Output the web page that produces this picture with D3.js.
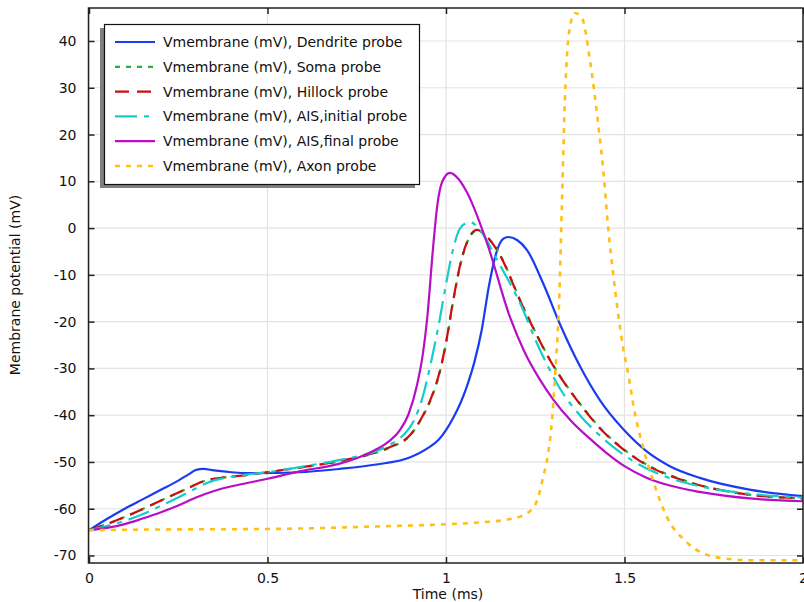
<!DOCTYPE html>
<html>
<head>
<meta charset="utf-8">
<script src="https://cdn.jsdelivr.net/npm/d3@7"></script>
<style>
body { margin: 0; background: #fff; }
text { font-family: "DejaVu Sans", sans-serif; }
</style>
</head>
<body>
<div class="content"></div>
<script>
// time (ms) and membrane potential (mV)
var tDend = [0, 0.05, 0.1, 0.15, 0.2, 0.25, 0.28, 0.3, 0.32, 0.35, 0.4, 0.44, 0.59, 0.7, 0.8, 0.9, 0.95, 0.98, 1.0, 1.02, 1.04, 1.06, 1.08, 1.1, 1.12, 1.14, 1.16, 1.174, 1.2, 1.227, 1.272, 1.319, 1.375, 1.431, 1.5, 1.563, 1.627, 1.711, 1.85, 2.0];
var vDend = [-64.6, -62.2, -60.0, -58.0, -56.0, -54.0, -52.6, -51.7, -51.5, -51.8, -52.2, -52.4, -52.2, -51.5, -50.6, -49.0, -47.0, -45.2, -43.2, -40.6, -37.5, -33.5, -28.5, -21.8, -12.5, -5.5, -2.3, -1.9, -2.6, -4.7, -11.8, -20.5, -29.5, -36.8, -43.3, -47.8, -50.9, -53.4, -55.9, -57.3];

var tSoma = [0, 0.05, 0.123, 0.2, 0.283, 0.311, 0.33, 0.37, 0.44, 0.571, 0.7, 0.8, 0.85, 0.9, 0.93, 0.96, 0.983, 1.0, 1.02, 1.045, 1.065, 1.087, 1.11, 1.143, 1.216, 1.291, 1.384, 1.44, 1.5, 1.57, 1.647, 1.804, 2.0];
var vSoma = [-64.6, -63.3, -61.0, -58.3, -55.4, -54.4, -53.9, -53.4, -52.8, -51.4, -49.9, -48.1, -46.7, -44.3, -40.9, -36.2, -30.7, -24.7, -15.7, -6.4, -2.1, -0.5, -1.5, -4.6, -16.8, -28.1, -38.4, -43.4, -47.4, -50.9, -53.4, -56.5, -57.8];

var tHill = [0, 0.05, 0.123, 0.2, 0.283, 0.311, 0.33, 0.37, 0.44, 0.571, 0.7, 0.8, 0.85, 0.9, 0.93, 0.96, 0.983, 1.0, 1.02, 1.045, 1.065, 1.087, 1.11, 1.143, 1.216, 1.291, 1.384, 1.44, 1.5, 1.57, 1.647, 1.804, 2.0];
var vHill = [-64.6, -63.3, -61.0, -58.3, -55.4, -54.4, -53.9, -53.4, -52.8, -51.4, -49.8, -48.0, -46.6, -44.2, -40.8, -36.0, -30.5, -24.5, -15.5, -6.2, -2.0, -0.4, -1.5, -4.7, -16.9, -28.2, -38.5, -43.5, -47.5, -51.0, -53.5, -56.5, -57.8];

var tAisI = [0, 0.05, 0.1, 0.15, 0.2, 0.25, 0.3, 0.34, 0.38, 0.44, 0.5, 0.59, 0.7, 0.8, 0.85, 0.88, 0.91, 0.935, 0.96, 0.98, 1.0, 1.02, 1.04, 1.067, 1.095, 1.143, 1.216, 1.25, 1.283, 1.32, 1.375, 1.426, 1.47, 1.524, 1.6, 1.711, 1.85, 2.0];
var vAisI = [-64.6, -63.7, -62.6, -61.2, -59.4, -57.6, -55.6, -54.2, -53.4, -52.7, -52.2, -51.1, -49.6, -47.8, -46.0, -44.3, -41.2, -36.0, -28.0, -20.5, -12.0, -4.5, 0.0, 1.3, -0.4, -6.8, -17.5, -23.8, -29.2, -34.4, -40.0, -44.0, -46.9, -49.8, -52.7, -55.2, -56.8, -57.6];

var tAisF = [0, 0.05, 0.1, 0.15, 0.2, 0.25, 0.3, 0.35, 0.4, 0.45, 0.5, 0.59, 0.7, 0.76, 0.8, 0.84, 0.87, 0.895, 0.919, 0.935, 0.947, 0.964, 0.975, 0.99, 1.011, 1.035, 1.059, 1.115, 1.179, 1.22, 1.263, 1.3, 1.35, 1.41, 1.45, 1.5, 1.56, 1.63, 1.71, 1.85, 2.0];
var vAisF = [-64.6, -64.1, -63.3, -62.1, -60.8, -59.3, -57.6, -56.2, -55.2, -54.4, -53.6, -52.0, -50.4, -48.9, -47.5, -45.6, -43.3, -39.8, -33.5, -27.0, -19.5, -4.0, 4.5, 10.0, 11.8, 10.5, 7.6, -3.2, -19.0, -26.5, -32.4, -36.6, -41.2, -45.5, -48.1, -50.9, -53.3, -55.1, -56.4, -57.8, -58.4];

var tAxon = [0, 0.1, 0.535, 0.8, 1.003, 1.1, 1.179, 1.216, 1.249, 1.272, 1.286, 1.297, 1.305, 1.317, 1.325, 1.333, 1.347, 1.361, 1.381, 1.403, 1.426, 1.443, 1.454, 1.468, 1.482, 1.496, 1.51, 1.529, 1.549, 1.577, 1.619, 1.675, 1.759, 1.85, 2.0];
var vAxon = [-64.6, -64.5, -64.3, -63.8, -63.3, -62.9, -62.2, -61.4, -59.3, -53.3, -48.2, -41.1, -32.0, -15.4, 6.0, 27.4, 43.0, 46.0, 44.9, 36.0, 22.5, 10.3, 0.2, -9.6, -18.2, -25.5, -31.0, -39.6, -46.0, -53.3, -61.8, -67.2, -70.4, -71.0, -71.0];

var xTicks = [0, 0.5, 1, 1.5, 2];
var yTicks = [-70, -60, -50, -40, -30, -20, -10, 0, 10, 20, 30, 40];
var names = ["Vmembrane (mV), Dendrite probe", "Vmembrane (mV), Soma probe", "Vmembrane (mV), Hillock probe",
             "Vmembrane (mV), AIS,initial probe", "Vmembrane (mV), AIS,final probe", "Vmembrane (mV), Axon probe"];

var width = 804, height = 602;
var pLeft = 89, pRight = 803, pTop = 8, pBottom = 563;

var svg = d3.select(".content").append("svg").attr("width", width).attr("height", height);

var x = d3.scaleLinear().domain([0, 2]).range([pLeft, pRight]);
var y = d3.scaleLinear().domain([-70, 40]).range([555.5, 41]);

// grid
svg.append("g").selectAll("line").data(xTicks).enter().append("line")
	.attr("x1", function(d){ return x(d); }).attr("x2", function(d){ return x(d); })
	.attr("y1", pTop).attr("y2", pBottom).attr("stroke", "#e3e3e3").attr("stroke-width", 1.2);
svg.append("g").selectAll("line").data(yTicks).enter().append("line")
	.attr("x1", pLeft).attr("x2", pRight)
	.attr("y1", function(d){ return y(d); }).attr("y2", function(d){ return y(d); })
	.attr("stroke", "#e3e3e3").attr("stroke-width", 1.2);

svg.append("clipPath").attr("id", "clip").append("rect")
	.attr("x", pLeft).attr("y", pTop).attr("width", pRight - pLeft).attr("height", pBottom - pTop);

var line = d3.line().x(function(d){ return x(d[0]); }).y(function(d){ return y(d[1]); }).curve(d3.curveMonotoneX);

var series = [
	{t: tDend, v: vDend, color: "#1a3cf0", dash: null, w: 2.2},
	{t: tSoma, v: vSoma, color: "#22b33a", dash: "5,6", w: 2.2},
	{t: tHill, v: vHill, color: "#cc0e0e", dash: "14,8", w: 2.2},
	{t: tAisI, v: vAisI, color: "#14cccc", dash: "22,7,5,7", w: 2.2},
	{t: tAisF, v: vAisF, color: "#b80fc4", dash: null, w: 2.2},
	{t: tAxon, v: vAxon, color: "#ffbf14", dash: "5,6", w: 2.6}
];

var plot = svg.append("g").attr("clip-path", "url(#clip)");
series.forEach(function(s){
	var pts = s.t.map(function(t, i){ return [t, s.v[i]]; });
	plot.append("path").datum(pts).attr("d", line)
		.attr("fill", "none").attr("stroke", s.color).attr("stroke-width", s.w)
		.attr("stroke-dasharray", s.dash);
});

// frame with inward ticks
var axc = "#222";
svg.append("rect").attr("x", pLeft - 0.5).attr("y", pTop).attr("width", pRight - pLeft + 0.5).attr("height", pBottom - pTop)
	.attr("fill", "none").attr("stroke", axc).attr("stroke-width", 1.5);

svg.append("g").attr("transform", "translate(0," + pBottom + ")")
	.call(d3.axisBottom(x).tickValues(xTicks).tickSizeInner(-6).tickSizeOuter(0).tickPadding(10).tickFormat(d3.format("")))
	.call(function(g){ g.select(".domain").remove(); });
svg.append("g").attr("transform", "translate(0," + pTop + ")")
	.call(d3.axisTop(x).tickValues(xTicks).tickSizeInner(-6).tickSizeOuter(0).tickFormat(""))
	.call(function(g){ g.select(".domain").remove(); });
svg.append("g").attr("transform", "translate(" + (pLeft - 0.5) + ",0)")
	.call(d3.axisLeft(y).tickValues(yTicks).tickSizeInner(-6).tickSizeOuter(0).tickPadding(12).tickFormat(function(d){ return String(d).replace("−", "-"); }))
	.call(function(g){ g.select(".domain").remove(); });
svg.append("g").attr("transform", "translate(" + pRight + ",0)")
	.call(d3.axisRight(y).tickValues(yTicks).tickSizeInner(-6).tickSizeOuter(0).tickFormat(""))
	.call(function(g){ g.select(".domain").remove(); });

svg.selectAll(".tick line").attr("stroke", axc).attr("stroke-width", 1.5);
svg.selectAll(".tick text").attr("font-family", "DejaVu Sans").attr("font-size", 14).attr("fill", "#111");

svg.append("text").attr("x", 448).attr("y", 599).attr("text-anchor", "middle")
	.attr("font-size", 14).attr("fill", "#111").text("Time (ms)");
svg.append("text").attr("transform", "translate(20,285) rotate(-90)").attr("text-anchor", "middle")
	.attr("font-size", 14).attr("fill", "#111").text("Membrane potential (mV)");

// legend
var lg = svg.append("g");
lg.append("rect").attr("x", 100).attr("y", 28).attr("width", 315).attr("height", 160).attr("fill", "#808080");
lg.append("rect").attr("x", 104.5).attr("y", 24.5).attr("width", 315).attr("height", 160)
	.attr("fill", "#fff").attr("stroke", "#111").attr("stroke-width", 1.2);
series.forEach(function(s, i){
	var yy = 42 + i * 24.8;
	lg.append("line").attr("x1", 115).attr("x2", 155).attr("y1", yy).attr("y2", yy)
		.attr("stroke", s.color).attr("stroke-width", s.w).attr("stroke-dasharray", s.dash);
	lg.append("text").attr("x", 163).attr("y", yy + 5).attr("font-size", 14).attr("fill", "#111").text(names[i]);
});
</script>
</body>
</html>
